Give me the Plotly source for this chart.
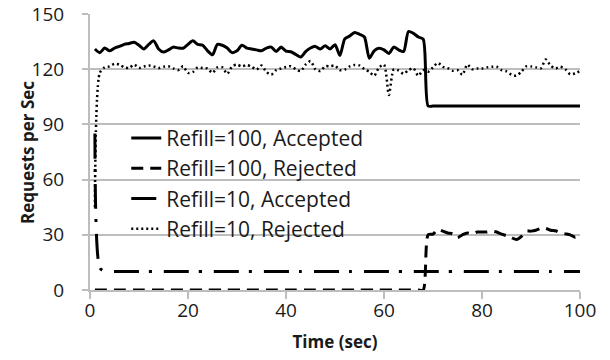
import plotly.graph_objects as go

time_sec = list(range(1, 101))

refill100_accepted = [
    131, 129, 131.5, 130, 131.5, 132.4, 133.5, 134, 134.6, 133,
    131, 133.5, 135.4, 131, 129.3, 130.5, 132, 131.5, 131.4, 133.5,
    135.4, 133.5, 133, 130, 127.8, 133.5, 133, 131.5, 129, 130,
    133, 131.5, 131, 130.5, 130, 131.5, 132, 129.6, 132, 129.8,
    129.5, 128, 126.6, 129.5, 131.5, 132.4, 131, 132.8, 131, 133.3,
    127.5, 136.5, 138, 140, 139, 137.5, 126, 130, 131.4, 130.5,
    128.5, 132, 130.5, 129.6, 140.5, 139.5, 137.5, 136.3, 100, 100,
    100, 100, 100, 100, 100, 100, 100, 100, 100, 100,
    100, 100, 100, 100, 100, 100, 100, 100, 100, 100,
    100, 100, 100, 100, 100, 100, 100, 100, 100, 100,
]

refill100_rejected = [0] * 68 + [
    30, 30.4, 33, 32, 31, 30.5, 28.5, 30, 31, 30.4,
    31.5, 31.5, 31.5, 32, 31.5, 30.4, 29.5, 28.5, 27.4, 29,
    31.9, 32, 32.5, 33.5, 33.5, 32.5, 32.2, 31, 30.5, 30,
    28.7, 30,
]

refill10_accepted = [85, 12] + [10] * 98

refill10_rejected = [
    45, 118, 121, 121.5, 123, 122.5, 121, 120.7, 122.5, 120.7,
    121.5, 122, 121.5, 120.7, 121.3, 121.6, 120.4, 119.5, 121.6, 118,
    118.5, 121, 120.6, 120.4, 118, 121, 121, 117.5, 121.5, 122.5,
    121.5, 122.3, 121.3, 119.8, 122, 118.5, 117, 119.5, 120.4, 121.2,
    121.6, 120, 119, 122.5, 124.4, 120, 119, 121.6, 121.6, 122,
    119.5, 119.8, 121.5, 122.3, 122, 120, 118.6, 116.5, 121, 122.5,
    106, 119.9, 119.3, 117.5, 119.5, 120.5, 116.5, 119.5, 118.6, 121,
    123.4, 121.3, 120.6, 119.2, 119.5, 117, 122.5, 120, 120.4, 120.4,
    121, 121.3, 121.3, 119.5, 118.8, 117, 116.5, 118.5, 121.5, 121.5,
    121, 120.5, 125.3, 122, 120.4, 121.3, 120, 117.2, 117.7, 119,
]

series_names = [
    "Refill=100, Accepted",
    "Refill=100, Rejected",
    "Refill=10, Accepted",
    "Refill=10, Rejected",
]

y_ticks = [0, 30, 60, 90, 120, 150]
x_ticks = [0, 20, 40, 60, 80, 100]

FONT = "Open Sans"
TXT = "#1a1a1a"
GRID = "#bdbdbd"

styles = [
    dict(width=3, dash="solid"),
    dict(width=3, dash="12px,7px"),
    dict(width=3, dash="25px,10px,3px,12px"),
    dict(width=2.5, dash="2px,3px"),
]
series_values = [refill100_accepted, refill100_rejected, refill10_accepted, refill10_rejected]

fig = go.Figure()
for name, vals, st in zip(series_names, series_values, styles):
    fig.add_trace(go.Scatter(
        x=time_sec, y=vals, name=name, mode="lines",
        line=dict(color="black", width=st["width"], dash=st["dash"], shape="spline", smoothing=0.7),
    ))

fig.update_layout(
    width=610, height=360,
    margin=dict(l=90, r=30, t=14, b=70),
    paper_bgcolor="white", plot_bgcolor="white",
    font=dict(family=FONT, color=TXT, size=19),
    showlegend=True,
    legend=dict(
        x=0.074, y=0.624, xanchor="left", yanchor="top",
        bgcolor="rgba(0,0,0,0)", borderwidth=0,
        font=dict(family=FONT, size=21, color=TXT),
    ),
    xaxis=dict(
        range=[0, 100], tickvals=x_ticks, ticktext=[str(v) for v in x_ticks],
        showgrid=False, zeroline=False,
        showline=True, linecolor=GRID, linewidth=2,
        ticks="outside", ticklen=7, tickcolor=GRID, tickwidth=2,
        ticklabelstandoff=-5,
        tickfont=dict(family=FONT, size=19, color=TXT),
        title=dict(text="Time (sec)", font=dict(family=FONT, size=17, color=TXT, weight="bold"), standoff=14),
        automargin=False,
    ),
    yaxis=dict(
        range=[0, 150], tickvals=y_ticks, ticktext=[str(v) for v in y_ticks],
        showgrid=True, gridcolor=GRID, gridwidth=1.5, zeroline=False,
        showline=True, linecolor=GRID, linewidth=2,
        ticks="outside", ticklen=6, tickcolor=GRID, tickwidth=2,
        ticklabelstandoff=14, ticklabeloverflow="allow",
        tickfont=dict(family=FONT, size=19, color=TXT),
        automargin=False,
    ),
    annotations=[dict(
        text="Requests per Sec", textangle=-90,
        xref="paper", yref="paper", x=-0.1286, y=0.5,
        xanchor="center", yanchor="middle", showarrow=False,
        font=dict(family=FONT, size=17, color=TXT, weight="bold"),
    )],
)

fig.write_html("out.html", config={"displayModeBar": False},
               post_script="document.body.style.margin='0px';")
